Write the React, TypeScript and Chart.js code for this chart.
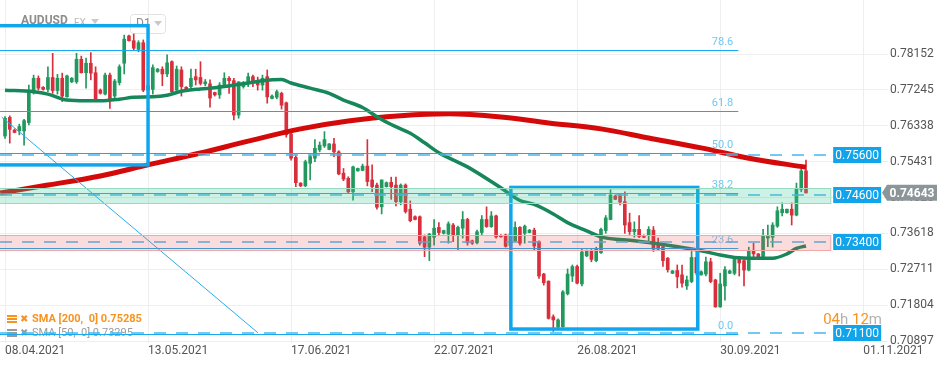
import React, { useEffect, useRef } from 'react';
import { Chart, registerables } from 'chart.js';

Chart.register(...registerables);

// ---- Data (daily candles, index 0 = 08.04.2021; Sunday sessions included) ----
const opens = [
  0.7608, 0.7655, 0.7623, 0.7621, 0.7621, 0.7642,
  0.7720, 0.7754, 0.7731, 0.7726, 0.7756, 0.7723,
  0.7754, 0.7707, 0.7745, 0.7745, 0.7802, 0.7768,
  0.7792, 0.7768, 0.7724, 0.7714, 0.7762, 0.7709,
  0.7743, 0.7792, 0.7861, 0.7849, 0.7827, 0.7844,
  0.7724, 0.7726, 0.7771, 0.7777, 0.7765, 0.7796,
  0.7724, 0.7775, 0.7731, 0.7733, 0.7758, 0.7756,
  0.7740, 0.7740, 0.7718, 0.7712, 0.7737, 0.7754,
  0.7748, 0.7661, 0.7733, 0.7740, 0.7758, 0.7748,
  0.7737, 0.7758, 0.7703, 0.7706, 0.7716, 0.7692,
  0.7613, 0.7554, 0.7489, 0.7482, 0.7539, 0.7552,
  0.7573, 0.7583, 0.7574, 0.7588, 0.7568, 0.7514,
  0.7501, 0.7467, 0.7520, 0.7521, 0.7532, 0.7497,
  0.7484, 0.7429, 0.7480, 0.7491, 0.7484, 0.7442,
  0.7484, 0.7423, 0.7404, 0.7404, 0.7353, 0.7327,
  0.7352, 0.7377, 0.7362, 0.7360, 0.7383, 0.7358,
  0.7375, 0.7397, 0.7343, 0.7338, 0.7364, 0.7397,
  0.7379, 0.7406, 0.7357, 0.7358, 0.7331, 0.7343,
  0.7377, 0.7362, 0.7364, 0.7370, 0.7341, 0.7259,
  0.7241, 0.7151, 0.7125, 0.7126, 0.7209, 0.7254,
  0.7278, 0.7234, 0.7305, 0.7318, 0.7293, 0.7313,
  0.7369, 0.7397, 0.7456, 0.7459, 0.7442, 0.7389,
  0.7366, 0.7372, 0.7354, 0.7358, 0.7370, 0.7337,
  0.7328, 0.7299, 0.7261, 0.7268, 0.7257, 0.7229,
  0.7240, 0.7301, 0.7257, 0.7259, 0.7290, 0.7244,
  0.7176, 0.7229, 0.7261, 0.7261, 0.7296, 0.7293,
  0.7269, 0.7318, 0.7310, 0.7301, 0.7350, 0.7352,
  0.7380, 0.7414, 0.7414, 0.7423, 0.7408, 0.7473,
  0.7520,
];
const highs = [
  0.7657, 0.7659, 0.7626, 0.7638, 0.7650, 0.7737,
  0.7762, 0.7760, 0.7733, 0.7783, 0.7817, 0.7764,
  0.7767, 0.7762, 0.7756, 0.7817, 0.7810, 0.7805,
  0.7819, 0.7783, 0.7727, 0.7767, 0.7767, 0.7751,
  0.7788, 0.7863, 0.7863, 0.7866, 0.7849, 0.7851,
  0.7750, 0.7788, 0.7779, 0.7783, 0.7813, 0.7798,
  0.7785, 0.7783, 0.7733, 0.7777, 0.7777, 0.7796,
  0.7751, 0.7750, 0.7719, 0.7743, 0.7768, 0.7758,
  0.7754, 0.7745, 0.7746, 0.7767, 0.7762, 0.7757,
  0.7762, 0.7775, 0.7712, 0.7724, 0.7719, 0.7694,
  0.7623, 0.7560, 0.7490, 0.7547, 0.7560, 0.7599,
  0.7593, 0.7619, 0.7589, 0.7602, 0.7571, 0.7526,
  0.7505, 0.7532, 0.7527, 0.7537, 0.7599, 0.7535,
  0.7489, 0.7497, 0.7492, 0.7504, 0.7504, 0.7487,
  0.7487, 0.7444, 0.7406, 0.7406, 0.7358, 0.7362,
  0.7397, 0.7389, 0.7370, 0.7391, 0.7387, 0.7380,
  0.7417, 0.7400, 0.7345, 0.7370, 0.7407, 0.7429,
  0.7417, 0.7408, 0.7359, 0.7360, 0.7366, 0.7391,
  0.7379, 0.7383, 0.7372, 0.7375, 0.7343, 0.7261,
  0.7242, 0.7156, 0.7146, 0.7217, 0.7272, 0.7282,
  0.7282, 0.7324, 0.7320, 0.7321, 0.7327, 0.7375,
  0.7407, 0.7472, 0.7459, 0.7463, 0.7467, 0.7413,
  0.7391, 0.7407, 0.7358, 0.7379, 0.7379, 0.7350,
  0.7337, 0.7301, 0.7268, 0.7282, 0.7282, 0.7254,
  0.7318, 0.7315, 0.7267, 0.7302, 0.7299, 0.7246,
  0.7261, 0.7278, 0.7269, 0.7302, 0.7304, 0.7295,
  0.7327, 0.7337, 0.7311, 0.7372, 0.7383, 0.7389,
  0.7429, 0.7439, 0.7423, 0.7439, 0.7489, 0.7526,
  0.7547,
];
const lows = [
  0.7602, 0.7590, 0.7616, 0.7611, 0.7585, 0.7636,
  0.7714, 0.7724, 0.7724, 0.7720, 0.7716, 0.7714,
  0.7695, 0.7706, 0.7743, 0.7741, 0.7767, 0.7729,
  0.7750, 0.7695, 0.7714, 0.7712, 0.7678, 0.7703,
  0.7737, 0.7765, 0.7848, 0.7826, 0.7821, 0.7720,
  0.7704, 0.7714, 0.7769, 0.7735, 0.7758, 0.7718,
  0.7723, 0.7709, 0.7724, 0.7724, 0.7737, 0.7737,
  0.7735, 0.7681, 0.7709, 0.7703, 0.7733, 0.7716,
  0.7649, 0.7653, 0.7729, 0.7733, 0.7733, 0.7724,
  0.7724, 0.7691, 0.7702, 0.7702, 0.7676, 0.7605,
  0.7547, 0.7480, 0.7480, 0.7480, 0.7497, 0.7543,
  0.7568, 0.7579, 0.7573, 0.7556, 0.7510, 0.7495,
  0.7463, 0.7446, 0.7519, 0.7520, 0.7482, 0.7467,
  0.7423, 0.7411, 0.7479, 0.7448, 0.7431, 0.7434,
  0.7413, 0.7391, 0.7396, 0.7332, 0.7303, 0.7293,
  0.7332, 0.7358, 0.7360, 0.7337, 0.7341, 0.7320,
  0.7350, 0.7332, 0.7334, 0.7335, 0.7358, 0.7377,
  0.7377, 0.7350, 0.7352, 0.7327, 0.7326, 0.7341,
  0.7332, 0.7337, 0.7363, 0.7320, 0.7248, 0.7231,
  0.7145, 0.7114, 0.7120, 0.7124, 0.7206, 0.7240,
  0.7234, 0.7229, 0.7303, 0.7290, 0.7290, 0.7311,
  0.7362, 0.7396, 0.7447, 0.7434, 0.7362, 0.7359,
  0.7352, 0.7351, 0.7351, 0.7337, 0.7316, 0.7320,
  0.7278, 0.7264, 0.7260, 0.7224, 0.7226, 0.7220,
  0.7237, 0.7257, 0.7256, 0.7254, 0.7237, 0.7175,
  0.7175, 0.7193, 0.7260, 0.7257, 0.7254, 0.7229,
  0.7267, 0.7303, 0.7302, 0.7298, 0.7328, 0.7327,
  0.7377, 0.7406, 0.7413, 0.7383, 0.7406, 0.7467,
  0.7464,
];
const closes = [
  0.7653, 0.7625, 0.7617, 0.7632, 0.7647, 0.7723,
  0.7754, 0.7729, 0.7726, 0.7756, 0.7723, 0.7754,
  0.7709, 0.7760, 0.7754, 0.7802, 0.7768, 0.7792,
  0.7767, 0.7701, 0.7716, 0.7762, 0.7701, 0.7747,
  0.7783, 0.7853, 0.7849, 0.7830, 0.7844, 0.7724,
  0.7735, 0.7781, 0.7777, 0.7765, 0.7793, 0.7720,
  0.7777, 0.7733, 0.7726, 0.7754, 0.7750, 0.7741,
  0.7745, 0.7704, 0.7712, 0.7737, 0.7754, 0.7748,
  0.7661, 0.7745, 0.7743, 0.7758, 0.7745, 0.7737,
  0.7754, 0.7707, 0.7709, 0.7720, 0.7686, 0.7611,
  0.7552, 0.7490, 0.7482, 0.7543, 0.7556, 0.7577,
  0.7585, 0.7599, 0.7588, 0.7568, 0.7512, 0.7499,
  0.7467, 0.7530, 0.7526, 0.7532, 0.7493, 0.7480,
  0.7428, 0.7497, 0.7490, 0.7480, 0.7442, 0.7484,
  0.7417, 0.7394, 0.7397, 0.7337, 0.7327, 0.7360,
  0.7375, 0.7364, 0.7369, 0.7386, 0.7358, 0.7377,
  0.7397, 0.7338, 0.7337, 0.7366, 0.7397, 0.7379,
  0.7406, 0.7353, 0.7353, 0.7329, 0.7360, 0.7377,
  0.7337, 0.7380, 0.7370, 0.7330, 0.7254, 0.7237,
  0.7147, 0.7143, 0.7143, 0.7214, 0.7259, 0.7278,
  0.7236, 0.7315, 0.7318, 0.7296, 0.7322, 0.7372,
  0.7401, 0.7459, 0.7448, 0.7441, 0.7383, 0.7366,
  0.7372, 0.7354, 0.7352, 0.7372, 0.7322, 0.7322,
  0.7293, 0.7270, 0.7267, 0.7252, 0.7236, 0.7244,
  0.7301, 0.7262, 0.7265, 0.7290, 0.7240, 0.7176,
  0.7234, 0.7270, 0.7267, 0.7296, 0.7287, 0.7269,
  0.7318, 0.7310, 0.7303, 0.7355, 0.7355, 0.7383,
  0.7419, 0.7423, 0.7423, 0.7408, 0.7476, 0.7520,
  0.7464,
];

// Moving averages (read at selected candle indices)
const sma200Idx = [-1, 9, 20, 30, 41, 51, 62, 72, 83, 93, 104, 114, 125, 135, 146, 156, 168];
const sma200Val = [0.7464, 0.7484, 0.7507, 0.7535, 0.7565, 0.7595, 0.7626, 0.7646, 0.7659, 0.7664, 0.7656, 0.7641, 0.7626, 0.7603, 0.7578, 0.7552, 0.7529];
const sma50Idx = [0, 6, 9, 13, 17, 20, 24, 27, 31, 34, 37, 41, 44, 50, 54, 58, 60, 64, 68, 71, 75, 78, 81, 85, 88, 91, 97, 104, 108, 111, 115, 118, 122, 125, 132, 139, 146, 150, 153, 157, 161, 164, 166, 168];
const sma50Val = [0.7724, 0.7720, 0.7714, 0.7699, 0.7697, 0.7697, 0.7701, 0.7706, 0.7707, 0.7711, 0.7721, 0.7727, 0.7730, 0.7740, 0.7748, 0.7751, 0.7742, 0.7729, 0.7716, 0.7699, 0.7680, 0.7657, 0.7637, 0.7615, 0.7591, 0.7566, 0.7530, 0.7477, 0.7445, 0.7435, 0.7411, 0.7389, 0.7368, 0.7353, 0.7343, 0.7332, 0.7318, 0.7307, 0.7301, 0.7299, 0.7299, 0.7310, 0.7324, 0.7330];
const sma200Last = '0.75285';
const sma50Last = '0.73295';

// Axes
const xTickIdx = [0, 30, 60, 90, 120, 150, 180];
const xTickLabels = ['08.04.2021', '13.05.2021', '17.06.2021', '22.07.2021', '26.08.2021', '30.09.2021', '01.11.2021'];
const yTickVals = [0.70897, 0.71804, 0.72711, 0.73618, 0.74525, 0.75431, 0.76338, 0.77245, 0.78152];

// Drawing tools
const fibVals = [0.7107, 0.7324, 0.7465, 0.7564, 0.7672, 0.7825];
const fibLabels = ['0.0', '23.6', '38.2', '50.0', '61.8', '78.6'];
const fibEndIdx = 153.8;
const levelVals = [0.756, 0.746, 0.734, 0.711];
const levelLabels = ['0.75600', '0.74600', '0.73400', '0.71100'];
const levelEndIdx = 173.7;
const zoneGreen = [0.7476, 0.7438];
const zonePink = [0.7358, 0.7319];
const zoneEndIdx = 173.2;
const rectA = [-3, 30, 0.7887, 0.7535];
const rectB = [106.1, 145.3, 0.7478, 0.7120];
const trendLine = [-0.7, 0.7656, 53.1, 0.7110];
const lastPrice = 0.74643;
const symbolName = 'AUDUSD';
const marketName = 'FX';
const intervalName = 'D1';
const countdown = ['04', 'h ', '12', 'm'];

const GREEN = '#22985e';
const RED = '#d92f3c';
const BLUE = '#10a6ee';
const ORANGE = '#f7931e';

function tri(ctx: CanvasRenderingContext2D, cx: number, cy: number, color: string) {
  ctx.fillStyle = color;
  ctx.beginPath();
  ctx.moveTo(cx - 4, cy - 2);
  ctx.lineTo(cx + 4, cy - 2);
  ctx.lineTo(cx, cy + 3);
  ctx.closePath();
  ctx.fill();
}

function legendIcon(ctx: CanvasRenderingContext2D, x: number, y: number, color: string) {
  ctx.fillStyle = color;
  ctx.fillRect(x, y - 4, 10, 2);
  ctx.fillRect(x, y - 1, 10, 2);
  ctx.fillRect(x, y + 2, 10, 2);
  ctx.font = 'bold 10px "DejaVu Sans"';
  ctx.textAlign = 'left';
  ctx.textBaseline = 'middle';
  ctx.fillText('✖', x + 13, y);
}

const overlayPlugin = {
  id: 'overlay',
  beforeDatasetsDraw(chart: any) {
    const { ctx, chartArea: a } = chart;
    ctx.save();
    // header
    ctx.textAlign = 'left';
    ctx.textBaseline = 'middle';
    ctx.font = 'bold 12px Roboto';
    ctx.fillStyle = '#8d8d8d';
    ctx.fillText(symbolName, a.left + 21, a.top + 21);
    ctx.font = '10px Roboto';
    ctx.fillStyle = '#b9b9b9';
    ctx.fillText(marketName, a.left + 74, a.top + 23);
    tri(ctx, a.left + 95, a.top + 21, '#c9c9c9');
    ctx.strokeStyle = '#e2e2e2';
    ctx.lineWidth = 1;
    ctx.beginPath();
    ctx.roundRect(a.left + 130.5, a.top + 14.5, 35, 19, 3);
    ctx.stroke();
    ctx.font = '12px Roboto';
    ctx.fillStyle = '#8d8d8d';
    ctx.fillText(intervalName, a.left + 136, a.top + 24);
    tri(ctx, a.left + 158, a.top + 23, '#c9c9c9');
    // legend
    legendIcon(ctx, a.left + 7, a.bottom - 24, ORANGE);
    ctx.font = 'bold 11px Roboto';
    ctx.fillStyle = ORANGE;
    ctx.textAlign = 'left';
    ctx.fillText('SMA [200,  0] ' + sma200Last, a.left + 32, a.bottom - 24);
    legendIcon(ctx, a.left + 7, a.bottom - 10, '#9a9a9a');
    ctx.font = '11px Roboto';
    ctx.fillStyle = '#9a9a9a';
    ctx.fillText('SMA [50,  0] ' + sma50Last, a.left + 32, a.bottom - 10);
    ctx.restore();
  },
  afterDatasetsDraw(chart: any) {
    const { ctx, chartArea: a, scales } = chart;
    const px = (v: number) => scales.x.getPixelForValue(v);
    const py = (v: number) => scales.y.getPixelForValue(v);
    ctx.save();
    ctx.beginPath();
    ctx.rect(a.left, a.top, a.right - a.left, a.bottom - a.top);
    ctx.clip();

    // fibonacci levels
    const fx = px(fibEndIdx);
    fibVals.forEach((v, k) => {
      const y = Math.round(py(v)) + 0.5;
      ctx.strokeStyle = '#19a9ef';
      ctx.lineWidth = 1;
      ctx.beginPath();
      ctx.moveTo(a.left, y);
      ctx.lineTo(fx, y);
      ctx.stroke();
      ctx.fillStyle = '#6fc8f2';
      ctx.font = '11px Roboto';
      ctx.textAlign = 'right';
      ctx.textBaseline = 'bottom';
      ctx.fillText(fibLabels[k], fx - 5, y - 3);
    });

    // dashed horizontal levels
    const lx = px(levelEndIdx);
    ctx.setLineDash([12, 10]);
    ctx.strokeStyle = '#45b8ee';
    ctx.lineWidth = 1.5;
    levelVals.forEach((v) => {
      const y = Math.round(py(v));
      ctx.beginPath();
      ctx.moveTo(a.left, y);
      ctx.lineTo(lx, y);
      ctx.stroke();
    });
    ctx.setLineDash([]);

    // trend line
    ctx.strokeStyle = '#2aabea';
    ctx.lineWidth = 1;
    ctx.beginPath();
    ctx.moveTo(px(trendLine[0]), py(trendLine[1]));
    ctx.lineTo(px(trendLine[2]), py(trendLine[3]));
    ctx.stroke();

    // rectangles
    ctx.strokeStyle = BLUE;
    ctx.lineWidth = 3.5;
    [rectA, rectB].forEach((r) => {
      const x0 = px(r[0]);
      const x1 = px(r[1]);
      const y0 = py(r[2]);
      const y1 = py(r[3]);
      ctx.strokeRect(x0, y0, x1 - x0, y1 - y0);
    });

    // zones
    const zx = px(zoneEndIdx);
    const drawZone = (z: number[], fill: string, stroke: string) => {
      const y0 = Math.round(py(z[0])) + 0.5;
      const y1 = Math.round(py(z[1])) + 0.5;
      ctx.fillStyle = fill;
      ctx.fillRect(a.left, y0, zx - a.left, y1 - y0);
      ctx.strokeStyle = stroke;
      ctx.lineWidth = 1;
      ctx.strokeRect(a.left - 2, y0, zx - a.left + 2, y1 - y0);
    };
    drawZone(zoneGreen, 'rgba(60,200,150,0.26)', '#95dcc1');
    drawZone(zonePink, 'rgba(235,80,80,0.2)', '#f3a7a7');
    ctx.restore();

    // level label boxes
    ctx.save();
    levelVals.forEach((v, k) => {
      const y = Math.round(py(v));
      ctx.fillStyle = '#12a4ea';
      ctx.fillRect(lx, y - 8, 48, 16);
      ctx.fillStyle = '#ffffff';
      ctx.font = '12px Roboto';
      ctx.textAlign = 'center';
      ctx.textBaseline = 'middle';
      ctx.fillText(levelLabels[k], lx + 24, y + 1);
    });

    // last price tag
    const ly = py(lastPrice);
    const tagRight = a.right + 49;
    ctx.fillStyle = '#8c9699';
    ctx.beginPath();
    ctx.moveTo(a.right - 6, ly);
    ctx.lineTo(a.right - 1, ly - 8);
    ctx.lineTo(tagRight, ly - 8);
    ctx.lineTo(tagRight, ly + 8);
    ctx.lineTo(a.right - 1, ly + 8);
    ctx.closePath();
    ctx.fill();
    ctx.fillStyle = '#ffffff';
    ctx.font = 'bold 12px Roboto';
    ctx.textAlign = 'center';
    ctx.textBaseline = 'middle';
    ctx.fillText(lastPrice.toFixed(5), (a.right - 1 + tagRight) / 2, ly + 1);

    // countdown
    ctx.font = '15px Roboto';
    ctx.textAlign = 'left';
    ctx.textBaseline = 'middle';
    let cx = lx - 10;
    countdown.forEach((t, k) => {
      ctx.fillStyle = k % 2 === 0 ? ORANGE : '#b3b3b3';
      ctx.fillText(t, cx, a.bottom - 23);
      cx += ctx.measureText(t).width;
    });
    ctx.restore();
  },
};

export default function App() {
  const ref = useRef<HTMLCanvasElement | null>(null);

  useEffect(() => {
    document.body.style.margin = '0';
    const canvas = ref.current;
    if (!canvas) return;
    Chart.defaults.font.family = 'Roboto, "Open Sans", sans-serif';
    const colors = closes.map((c, i) => (c >= opens[i] ? GREEN : RED));

    const chart = new Chart(canvas, {
      type: 'bar',
      data: {
        datasets: [
          {
            type: 'line',
            data: sma50Idx.map((x, k) => ({ x, y: sma50Val[k] })),
            borderColor: '#15875a',
            borderWidth: 3.5,
            pointRadius: 0,
            cubicInterpolationMode: 'monotone',
          } as any,
          {
            type: 'line',
            data: sma200Idx.map((x, k) => ({ x, y: sma200Val[k] })),
            borderColor: '#d40a0a',
            borderWidth: 5,
            pointRadius: 0,
            cubicInterpolationMode: 'monotone',
          } as any,
          {
            type: 'bar',
            data: opens.map((o, i) => ({ x: i, y: [o, closes[i]] })),
            backgroundColor: colors,
            barThickness: 3,
            grouped: false,
            borderWidth: 0,
          } as any,
          {
            type: 'bar',
            data: lows.map((l, i) => ({ x: i, y: [l, highs[i]] })),
            backgroundColor: colors,
            barThickness: 1,
            grouped: false,
            borderWidth: 0,
          } as any,
        ],
      },
      options: {
        responsive: false,
        maintainAspectRatio: false,
        animation: false,
        events: [],
        layout: { padding: 0 },
        plugins: { legend: { display: false }, tooltip: { enabled: false } },
        scales: {
          x: {
            type: 'linear',
            min: -1.05,
            max: 185.2,
            offset: false,
            bounds: 'data',
            grid: { color: '#eeeeee', drawTicks: false, offset: false },
            border: { display: false },
            afterBuildTicks: (s: any) => {
              s.ticks = xTickIdx.map((v) => ({ value: v }));
            },
            afterFit: (s: any) => {
              s.height = 22;
              s.paddingLeft = 0;
              s.paddingRight = 0;
            },
            ticks: {
              align: 'start',
              padding: 1,
              color: '#555555',
              font: { size: 12 },
              maxRotation: 0,
              autoSkip: false,
              callback: (v: any) => {
                const k = xTickIdx.indexOf(Number(v));
                return k >= 0 ? xTickLabels[k] : '';
              },
            },
          },
          y: {
            type: 'linear',
            position: 'right',
            min: 0.70847,
            max: 0.79519,
            bounds: 'data',
            beginAtZero: false,
            grid: { color: '#eeeeee', drawTicks: false },
            border: { display: false },
            afterBuildTicks: (s: any) => {
              s.ticks = yTickVals.map((v) => ({ value: v }));
            },
            afterFit: (s: any) => {
              s.width = 62;
              s.paddingTop = 0;
              s.paddingBottom = 0;
            },
            ticks: {
              padding: 2,
              color: '#555555',
              font: { size: 12 },
              autoSkip: false,
              callback: (v: any) => Number(v).toFixed(5),
            },
          },
        },
      } as any,
      plugins: [overlayPlugin as any],
    });
    return () => chart.destroy();
  }, []);

  return (
    <canvas
      ref={ref}
      width={950}
      height={365}
      style={{ display: 'block', width: '950px', height: '365px' }}
    />
  );
}
